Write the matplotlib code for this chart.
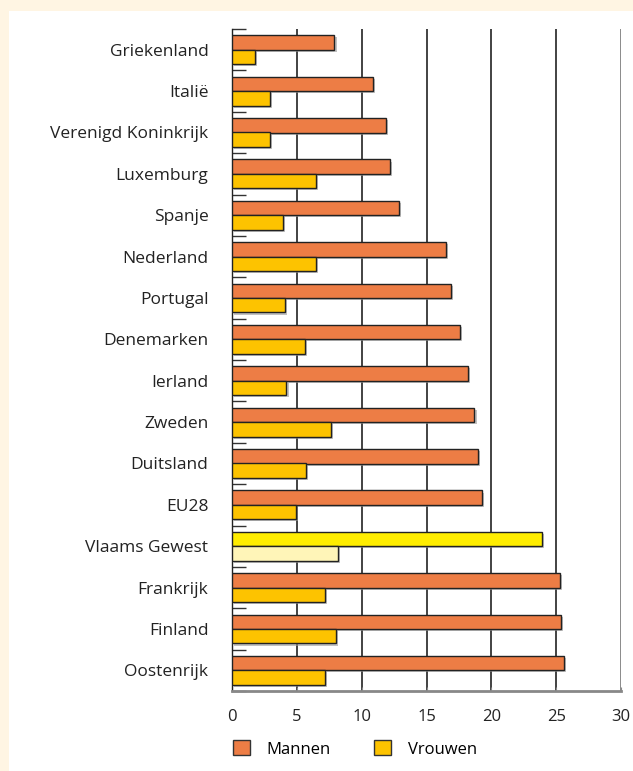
import matplotlib
matplotlib.use("Agg")
import matplotlib.pyplot as plt
import matplotlib.patheffects as pe
from matplotlib.patches import Rectangle, Patch
import numpy as np

plt.rcParams['font.family'] = ['Open Sans', 'DejaVu Sans']

landen = ["Griekenland", "Italië", "Verenigd Koninkrijk", "Luxemburg", "Spanje",
          "Nederland", "Portugal", "Denemarken", "Ierland", "Zweden", "Duitsland",
          "EU28", "Vlaams Gewest", "Frankrijk", "Finland", "Oostenrijk"]
mannen = [7.9, 10.9, 11.9, 12.2, 12.9, 16.5, 16.9, 17.6, 18.2, 18.7, 19.0,
          19.3, 23.9, 25.3, 25.4, 25.6]
vrouwen = [1.8, 2.9, 2.9, 6.5, 3.9, 6.5, 4.1, 5.6, 4.2, 7.6, 5.7,
           4.9, 8.2, 7.2, 8.0, 7.2]
xticks = [0, 5, 10, 15, 20, 25, 30]

c_man = "#ED7D45"
c_vrouw = "#FDC300"
c_vl_man = "#FFED00"
c_vl_vrouw = "#FFF5B8"

W, H = 633, 771
fig = plt.figure(figsize=(W/100, H/100), dpi=100)
fig.patch.set_facecolor("#FFF5E3")
fig.patches.append(Rectangle((9/W, 0), 1 - 9/W, 1 - 11/H, transform=fig.transFigure,
                             facecolor="white", edgecolor="none", zorder=-5))

ax = fig.add_axes([232/W, 1 - 691/H, (621-232)/W, (691-29)/H])
ax.set_facecolor("white")
ax.set_zorder(2)

y = np.arange(len(landen))
h = 0.35
cm = [c_vl_man if l == "Vlaams Gewest" else c_man for l in landen]
cv = [c_vl_vrouw if l == "Vlaams Gewest" else c_vrouw for l in landen]
shadow = [pe.SimplePatchShadow(offset=(1.5, -1.5), shadow_rgbFace="#999999", alpha=0.6), pe.Normal()]
b1 = ax.barh(y - 0.1725, mannen, height=h, color=cm, edgecolor="#222222", linewidth=1.0, zorder=3)
b2 = ax.barh(y + 0.175, vrouwen, height=h, color=cv, edgecolor="#222222", linewidth=1.0, zorder=3)
for b in list(b1) + list(b2):
    b.set_path_effects(shadow)

ax.set_xlim(0, 30)
ax.set_ylim(len(landen) - 0.5, -0.5)
ax.set_xticks(xticks)
ax.set_xticklabels([str(v) for v in xticks], fontsize=12, color="#222222")
ax.tick_params(axis='x', length=3, width=0.8, color="#888888", pad=13, direction='in')

ax.set_yticks(y)
ax.set_yticklabels(landen, fontsize=12.5, color="#222222")
ax.tick_params(axis='y', length=0, pad=17)
ax.set_yticks(np.arange(-0.5, len(landen), 1.0), minor=True)
ax.tick_params(axis='y', which='minor', direction='in', length=10, width=1.0, color="#333333")

for v in xticks[1:]:
    ax.axvline(v, color="#222222" if v < 30 else "#777777", linewidth=1.2, zorder=1)

for s in ["top", "right"]:
    ax.spines[s].set_visible(False)
ax.spines["left"].set_color("#222222")
ax.spines["left"].set_linewidth(1.0)
ax.spines["bottom"].set_color("#888888")
ax.spines["bottom"].set_linewidth(2.0)

handles = [Patch(facecolor=c_man, edgecolor="#333333", label="Mannen"),
           Patch(facecolor=c_vrouw, edgecolor="#333333", label="Vrouwen")]
fig.legend(handles=handles, loc="center", bbox_to_anchor=(355/W, 1 - 749/H), ncol=2,
           frameon=False, fontsize=12, handlelength=1.0, handleheight=1.0,
           handletextpad=1.0, columnspacing=2.6)

fig.savefig("out.png", dpi=100, facecolor=fig.get_facecolor())
